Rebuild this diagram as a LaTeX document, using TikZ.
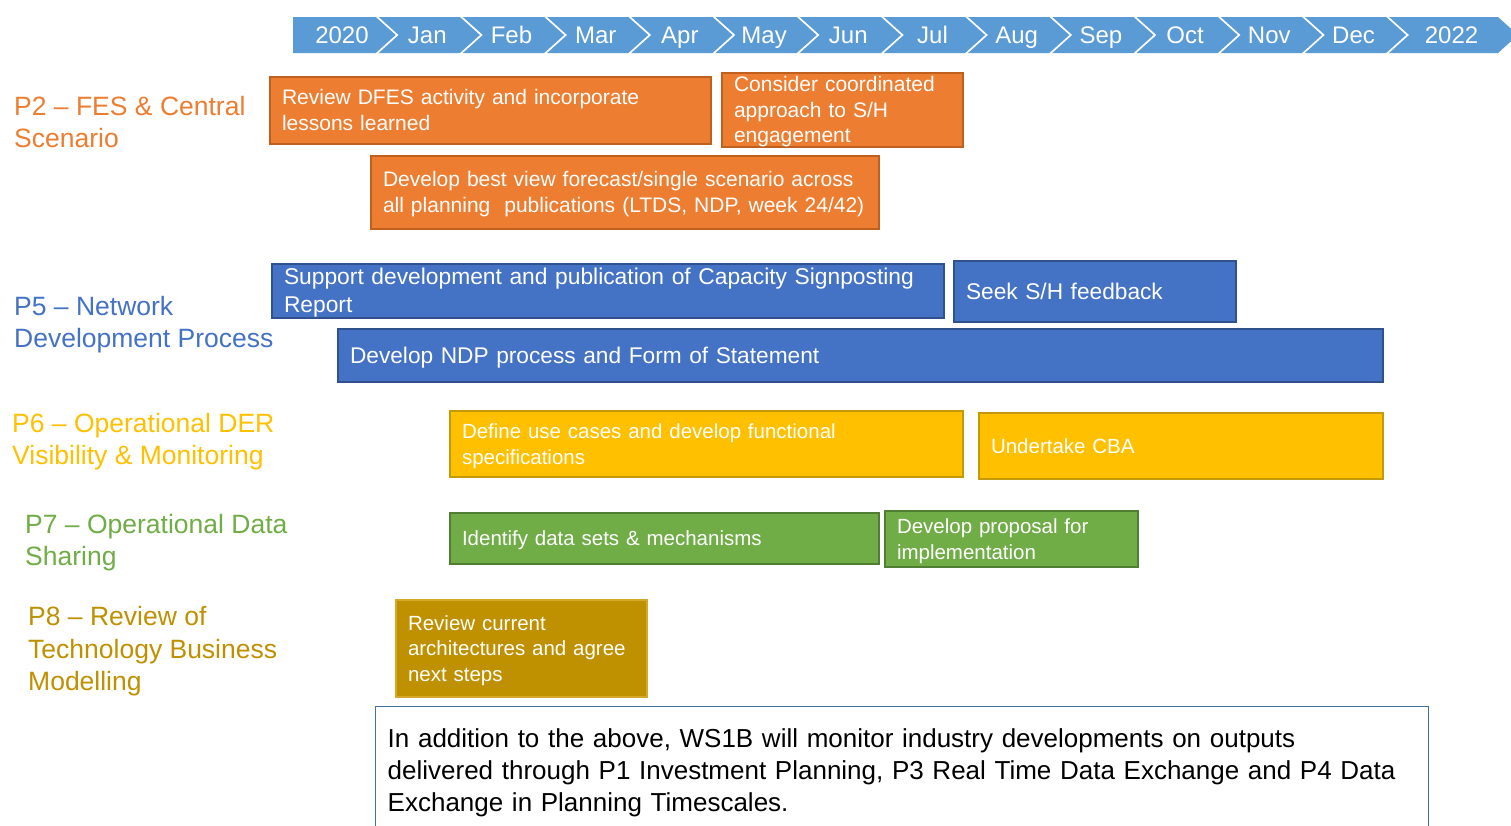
\documentclass[tikz,border=0pt]{standalone}
\usepackage{fontspec}
\setmainfont{Liberation Sans}
\definecolor{chev}{HTML}{5B9BD5}
\definecolor{orfill}{HTML}{ED7D31}
\definecolor{ordraw}{HTML}{C0601F}
\definecolor{blfill}{HTML}{4472C4}
\definecolor{bldraw}{HTML}{2F528F}
\definecolor{yefill}{HTML}{FFC000}
\definecolor{yedraw}{HTML}{C49A0C}
\definecolor{grfill}{HTML}{70AD47}
\definecolor{grdraw}{HTML}{507E32}
\definecolor{gofill}{HTML}{BF9000}
\definecolor{godraw}{HTML}{D4A82A}
\definecolor{notedraw}{HTML}{41719C}
\newcommand\ts{\rule[-0.2em]{0pt}{1.1em}}
\newcommand\taskbox[9]{%
  \pgfmathsetmacro\tw{#4-#2-24}%
  \pgfmathsetmacro\bw{#4-#2}%
  \pgfmathsetmacro\bh{#5-#3}%
  \node[task, fill=#6, draw=#7, minimum width=\bw pt, minimum height=\bh pt,
        text width=\tw pt, font=#8] (#1) at (#2,#3) {\ts#9\ts};}
\begin{document}
\begin{tikzpicture}[x=1pt,y=-1pt,
  task/.style={anchor=north west, line width=1.6pt, inner xsep=12pt, inner ysep=0pt,
               outer sep=0pt, align=left, text=white},
  lab/.style={anchor=base west, inner sep=0pt, align=left,
              font=\fontsize{26.5}{32.5}\selectfont},
  chevtext/.style={text=white, inner sep=0pt, anchor=base, font=\fontsize{24}{28}\selectfont},
  note/.style={anchor=north west, draw=notedraw, line width=1.4pt, fill=white,
               inner xsep=12pt, inner ysep=22pt, align=left, text=black,
               font=\fontsize{26}{32}\selectfont}]
\useasboundingbox (0,0) rectangle (1511,825);
\fill[white] (0,0) rectangle (1511,825);

% timeline chevrons
\foreach \lab [count=\k from 0] in {2020,Jan,Feb,Mar,Apr,May,Jun,Jul,Aug,Sep,Oct,Nov,Dec,2022}{
  \pgfmathsetmacro\L{\k==0 ? 293 : 293+\k*84.2+1.5}
  \pgfmathsetmacro\R{\k==13 ? 1498 : 293+(\k+1)*84.2-1.5}
  \pgfmathsetmacro\N{\k==0 ? 0 : 20}
  \pgfmathsetmacro\C{\k==0 ? 342 : (\L+20+\R)/2-2}
  \fill[chev] (\L,17) -- (\R,17) -- (\R+20,35) -- (\R,53) -- (\L,53) -- (\L+\N,35) -- cycle;
  \node[chevtext] (chev\k) at (\C,43.6) {\lab};
}

% row labels (anchor = baseline of last line)
\node[lab, text=orfill] (p2) at (14,147.5) {P2 – FES \& Central\\Scenario};
\node[lab, text=blfill] (p5) at (14,347.5) {P5 – Network\\Development Process};
\node[lab, text=yefill] (p6) at (12,464.5) {P6 – Operational DER\\Visibility \& Monitoring};
\node[lab, text=grfill] (p7) at (25,565.5) {P7 – Operational Data\\Sharing};
\node[lab, text=gofill] (p8) at (28,690.5) {P8 – Review of\\Technology Business\\Modelling};

% tasks
\taskbox{a}{270}{77}{711}{144}{orfill}{ordraw}{\fontsize{21}{26}\selectfont}{Review DFES activity and incorporate\\lessons learned}
\taskbox{b}{722}{73}{963}{146}{orfill}{ordraw}{\fontsize{21}{25.5}\selectfont}{Consider coordinated\\approach to S/H\\engagement}
\taskbox{c}{371}{156}{879}{229}{orfill}{ordraw}{\fontsize{21}{26}\selectfont}{Develop best view forecast/single scenario across\\all planning\ \ publications\ (LTDS, NDP, week 24/42)}
\taskbox{d}{272}{264}{944}{318}{blfill}{bldraw}{\fontsize{22.8}{28}\selectfont}{Support development and publication of Capacity Signposting\\Report}
\taskbox{e}{954}{261}{1236}{322}{blfill}{bldraw}{\fontsize{22.7}{28}\selectfont}{Seek S/H feedback}
\taskbox{f}{338}{329}{1383}{382}{blfill}{bldraw}{\fontsize{22.7}{28}\selectfont}{Develop NDP process and Form of Statement}
\taskbox{g}{450}{411}{963}{477}{yefill}{yedraw}{\fontsize{20.5}{26}\selectfont}{Define use cases and develop functional\\specifications}
\taskbox{h}{979}{413}{1383}{479}{yefill}{yedraw}{\fontsize{20.5}{26}\selectfont}{Undertake CBA}
\taskbox{i}{450}{513}{879}{564}{grfill}{grdraw}{\fontsize{20.5}{26}\selectfont}{Identify data sets \& mechanisms}
\taskbox{j}{885}{511}{1138}{567}{grfill}{grdraw}{\fontsize{20.5}{26}\selectfont}{Develop proposal for\\implementation}
\taskbox{k}{396}{600}{647}{697}{gofill}{godraw}{\fontsize{20.5}{25.5}\selectfont}{Review current\\architectures and agree\\next steps}

% note
\node[note, text width=1029pt] (note) at (375,706) {In addition to the above, WS1B will monitor industry developments on outputs\\delivered through P1 Investment Planning, P3 Real Time Data Exchange and P4 Data\\Exchange in Planning Timescales.};
\end{tikzpicture}
\end{document}
